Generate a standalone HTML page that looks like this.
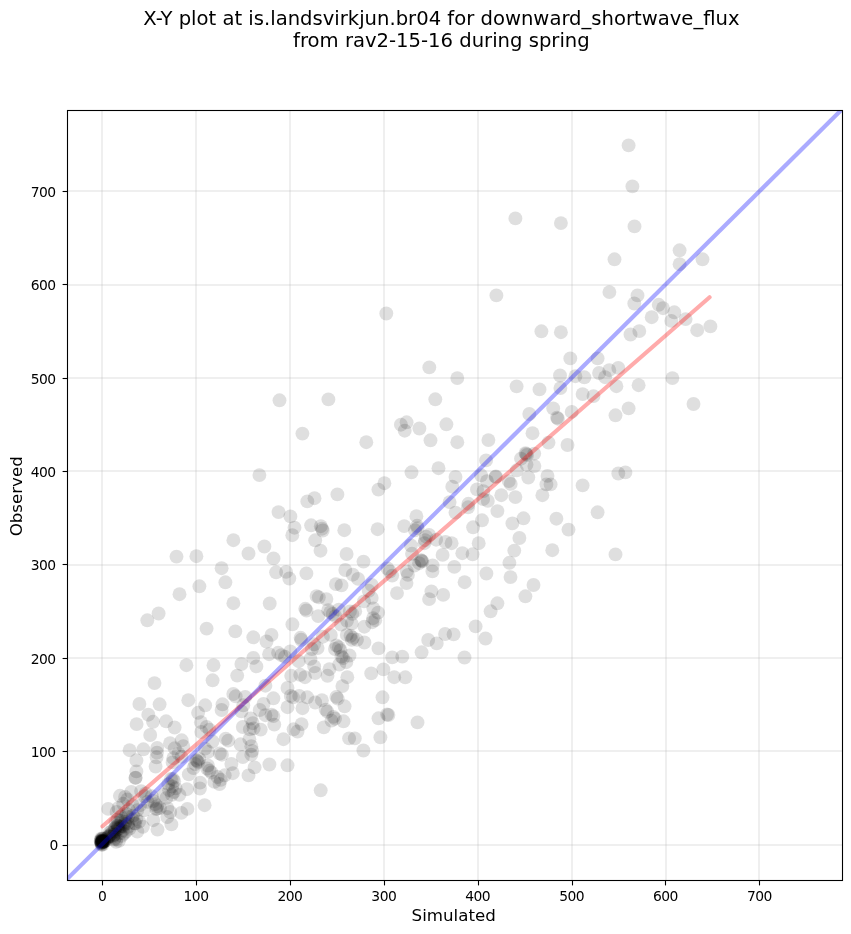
<!DOCTYPE html>
<html lang="en"><head><meta charset="utf-8"><title>X-Y plot</title>
<style>html,body{margin:0;padding:0;background:#fff}body{width:851px;height:934px;overflow:hidden}svg{display:block;will-change:transform}text{font-family:"DejaVu Sans","Liberation Sans",sans-serif;fill:#000}.tk{font-size:13.89px;letter-spacing:-0.55px}.lb{font-size:16.67px}.tt{font-size:19.6px}</style></head><body>
<svg width="851" height="934" viewBox="0 0 851 934">
<rect width="851" height="934" fill="#fff"/>
<text class="tt" x="441.4" y="24.7" text-anchor="middle">X-Y plot at is.landsvirkjun.br04 for downward_shortwave_flux</text>
<text class="tt" x="441.4" y="47.0" text-anchor="middle">from rav2-15-16 during spring</text>
<defs><clipPath id="ax"><rect x="67.5" y="110.5" width="775" height="770"/></clipPath></defs>
<g stroke="#b0b0b0" stroke-opacity="0.2" stroke-width="2">
<line x1="102" y1="110.5" x2="102" y2="880.5"/>
<line x1="196" y1="110.5" x2="196" y2="880.5"/>
<line x1="290" y1="110.5" x2="290" y2="880.5"/>
<line x1="384" y1="110.5" x2="384" y2="880.5"/>
<line x1="478" y1="110.5" x2="478" y2="880.5"/>
<line x1="572" y1="110.5" x2="572" y2="880.5"/>
<line x1="666" y1="110.5" x2="666" y2="880.5"/>
<line x1="759" y1="110.5" x2="759" y2="880.5"/>
<line x1="67.5" y1="845" x2="842.5" y2="845"/>
<line x1="67.5" y1="751" x2="842.5" y2="751"/>
<line x1="67.5" y1="658" x2="842.5" y2="658"/>
<line x1="67.5" y1="565" x2="842.5" y2="565"/>
<line x1="67.5" y1="471" x2="842.5" y2="471"/>
<line x1="67.5" y1="378" x2="842.5" y2="378"/>
<line x1="67.5" y1="285" x2="842.5" y2="285"/>
<line x1="67.5" y1="191" x2="842.5" y2="191"/>
</g>
<g clip-path="url(#ax)"><g fill="#000" fill-opacity="0.127">
<circle cx="628.6" cy="145.4" r="6.95"/>
<circle cx="632.4" cy="186.4" r="6.95"/>
<circle cx="634.5" cy="226.4" r="6.95"/>
<circle cx="560.9" cy="223.1" r="6.95"/>
<circle cx="614.5" cy="259.3" r="6.95"/>
<circle cx="679.6" cy="250.3" r="6.95"/>
<circle cx="679.6" cy="264.2" r="6.95"/>
<circle cx="702.5" cy="259.3" r="6.95"/>
<circle cx="609.4" cy="292.1" r="6.95"/>
<circle cx="637.5" cy="295.4" r="6.95"/>
<circle cx="634.3" cy="303.5" r="6.95"/>
<circle cx="658.7" cy="304.8" r="6.95"/>
<circle cx="663.0" cy="308.2" r="6.95"/>
<circle cx="674.3" cy="312.3" r="6.95"/>
<circle cx="651.7" cy="317.2" r="6.95"/>
<circle cx="671.3" cy="320.9" r="6.95"/>
<circle cx="685.6" cy="319.1" r="6.95"/>
<circle cx="710.4" cy="326.4" r="6.95"/>
<circle cx="697.2" cy="330.2" r="6.95"/>
<circle cx="639.3" cy="331.1" r="6.95"/>
<circle cx="630.5" cy="334.5" r="6.95"/>
<circle cx="560.9" cy="332.2" r="6.95"/>
<circle cx="570.3" cy="358.4" r="6.95"/>
<circle cx="597.6" cy="358.4" r="6.95"/>
<circle cx="618.3" cy="367.9" r="6.95"/>
<circle cx="609.3" cy="370.2" r="6.95"/>
<circle cx="599.1" cy="373.0" r="6.95"/>
<circle cx="605.1" cy="377.2" r="6.95"/>
<circle cx="584.4" cy="377.3" r="6.95"/>
<circle cx="575.4" cy="376.2" r="6.95"/>
<circle cx="560.0" cy="375.5" r="6.95"/>
<circle cx="560.4" cy="388.1" r="6.95"/>
<circle cx="616.4" cy="386.2" r="6.95"/>
<circle cx="638.6" cy="385.2" r="6.95"/>
<circle cx="672.4" cy="378.1" r="6.95"/>
<circle cx="582.6" cy="394.1" r="6.95"/>
<circle cx="593.5" cy="396.1" r="6.95"/>
<circle cx="571.7" cy="411.9" r="6.95"/>
<circle cx="628.6" cy="408.4" r="6.95"/>
<circle cx="615.5" cy="415.3" r="6.95"/>
<circle cx="693.5" cy="404.0" r="6.95"/>
<circle cx="567.5" cy="445.0" r="6.95"/>
<circle cx="618.3" cy="473.5" r="6.95"/>
<circle cx="625.4" cy="472.4" r="6.95"/>
<circle cx="582.6" cy="485.4" r="6.95"/>
<circle cx="597.6" cy="512.3" r="6.95"/>
<circle cx="568.5" cy="529.6" r="6.95"/>
<circle cx="615.5" cy="554.4" r="6.95"/>
<circle cx="515.4" cy="218.4" r="6.95"/>
<circle cx="496.4" cy="295.4" r="6.95"/>
<circle cx="541.4" cy="331.3" r="6.95"/>
<circle cx="429.3" cy="367.4" r="6.95"/>
<circle cx="457.3" cy="378.1" r="6.95"/>
<circle cx="516.6" cy="386.4" r="6.95"/>
<circle cx="539.5" cy="389.4" r="6.95"/>
<circle cx="435.3" cy="399.3" r="6.95"/>
<circle cx="529.3" cy="414.0" r="6.95"/>
<circle cx="553.2" cy="408.4" r="6.95"/>
<circle cx="557.0" cy="417.6" r="6.95"/>
<circle cx="557.9" cy="418.7" r="6.95"/>
<circle cx="406.6" cy="422.3" r="6.95"/>
<circle cx="400.9" cy="424.7" r="6.95"/>
<circle cx="404.7" cy="430.7" r="6.95"/>
<circle cx="419.4" cy="428.5" r="6.95"/>
<circle cx="446.4" cy="424.3" r="6.95"/>
<circle cx="430.5" cy="440.3" r="6.95"/>
<circle cx="457.3" cy="442.2" r="6.95"/>
<circle cx="488.4" cy="440.1" r="6.95"/>
<circle cx="532.5" cy="433.2" r="6.95"/>
<circle cx="548.5" cy="442.6" r="6.95"/>
<circle cx="486.1" cy="460.4" r="6.95"/>
<circle cx="525.5" cy="453.1" r="6.95"/>
<circle cx="527.1" cy="455.0" r="6.95"/>
<circle cx="526.2" cy="454.0" r="6.95"/>
<circle cx="521.0" cy="458.7" r="6.95"/>
<circle cx="534.2" cy="453.6" r="6.95"/>
<circle cx="526.5" cy="464.6" r="6.95"/>
<circle cx="534.4" cy="466.1" r="6.95"/>
<circle cx="516.8" cy="470.3" r="6.95"/>
<circle cx="528.3" cy="477.5" r="6.95"/>
<circle cx="547.5" cy="475.9" r="6.95"/>
<circle cx="546.4" cy="484.4" r="6.95"/>
<circle cx="550.6" cy="484.4" r="6.95"/>
<circle cx="495.6" cy="476.9" r="6.95"/>
<circle cx="508.8" cy="481.1" r="6.95"/>
<circle cx="510.7" cy="483.9" r="6.95"/>
<circle cx="501.3" cy="495.2" r="6.95"/>
<circle cx="515.4" cy="497.1" r="6.95"/>
<circle cx="542.4" cy="495.2" r="6.95"/>
<circle cx="416.4" cy="516.2" r="6.95"/>
<circle cx="404.2" cy="526.1" r="6.95"/>
<circle cx="417.1" cy="525.8" r="6.95"/>
<circle cx="417.6" cy="528.1" r="6.95"/>
<circle cx="415.0" cy="530.3" r="6.95"/>
<circle cx="449.6" cy="502.1" r="6.95"/>
<circle cx="455.5" cy="512.6" r="6.95"/>
<circle cx="468.4" cy="503.8" r="6.95"/>
<circle cx="468.1" cy="507.3" r="6.95"/>
<circle cx="487.8" cy="500.9" r="6.95"/>
<circle cx="483.1" cy="499.1" r="6.95"/>
<circle cx="482.0" cy="520.3" r="6.95"/>
<circle cx="473.1" cy="527.3" r="6.95"/>
<circle cx="478.7" cy="543.2" r="6.95"/>
<circle cx="426.1" cy="536.7" r="6.95"/>
<circle cx="425.0" cy="540.2" r="6.95"/>
<circle cx="429.1" cy="535.0" r="6.95"/>
<circle cx="424.4" cy="543.2" r="6.95"/>
<circle cx="436.1" cy="539.7" r="6.95"/>
<circle cx="445.5" cy="542.0" r="6.95"/>
<circle cx="451.6" cy="543.2" r="6.95"/>
<circle cx="410.9" cy="545.5" r="6.95"/>
<circle cx="412.0" cy="553.8" r="6.95"/>
<circle cx="442.6" cy="554.9" r="6.95"/>
<circle cx="462.3" cy="553.2" r="6.95"/>
<circle cx="472.6" cy="554.3" r="6.95"/>
<circle cx="421.1" cy="560.2" r="6.95"/>
<circle cx="422.3" cy="561.4" r="6.95"/>
<circle cx="421.6" cy="560.8" r="6.95"/>
<circle cx="419.1" cy="563.2" r="6.95"/>
<circle cx="414.4" cy="565.5" r="6.95"/>
<circle cx="432.6" cy="565.5" r="6.95"/>
<circle cx="432.4" cy="571.4" r="6.95"/>
<circle cx="454.3" cy="566.9" r="6.95"/>
<circle cx="486.4" cy="573.5" r="6.95"/>
<circle cx="406.8" cy="571.4" r="6.95"/>
<circle cx="407.9" cy="574.9" r="6.95"/>
<circle cx="406.5" cy="583.1" r="6.95"/>
<circle cx="464.6" cy="582.2" r="6.95"/>
<circle cx="397.0" cy="593.1" r="6.95"/>
<circle cx="431.4" cy="591.4" r="6.95"/>
<circle cx="443.2" cy="594.9" r="6.95"/>
<circle cx="411.5" cy="472.3" r="6.95"/>
<circle cx="438.5" cy="468.2" r="6.95"/>
<circle cx="455.5" cy="477.0" r="6.95"/>
<circle cx="452.3" cy="486.7" r="6.95"/>
<circle cx="481.1" cy="475.3" r="6.95"/>
<circle cx="487.0" cy="481.1" r="6.95"/>
<circle cx="477.0" cy="489.4" r="6.95"/>
<circle cx="483.4" cy="491.1" r="6.95"/>
<circle cx="497.4" cy="511.1" r="6.95"/>
<circle cx="512.4" cy="523.4" r="6.95"/>
<circle cx="523.5" cy="518.3" r="6.95"/>
<circle cx="556.4" cy="518.7" r="6.95"/>
<circle cx="519.4" cy="538.0" r="6.95"/>
<circle cx="514.3" cy="550.6" r="6.95"/>
<circle cx="552.3" cy="550.2" r="6.95"/>
<circle cx="509.4" cy="562.8" r="6.95"/>
<circle cx="510.5" cy="577.1" r="6.95"/>
<circle cx="533.5" cy="585.0" r="6.95"/>
<circle cx="525.4" cy="596.3" r="6.95"/>
<circle cx="497.4" cy="603.3" r="6.95"/>
<circle cx="490.6" cy="611.3" r="6.95"/>
<circle cx="475.6" cy="626.4" r="6.95"/>
<circle cx="429.1" cy="599.1" r="6.95"/>
<circle cx="485.5" cy="638.5" r="6.95"/>
<circle cx="445.1" cy="634.0" r="6.95"/>
<circle cx="453.6" cy="634.4" r="6.95"/>
<circle cx="428.2" cy="640.0" r="6.95"/>
<circle cx="436.7" cy="643.4" r="6.95"/>
<circle cx="421.6" cy="652.3" r="6.95"/>
<circle cx="464.5" cy="657.5" r="6.95"/>
<circle cx="402.3" cy="656.6" r="6.95"/>
<circle cx="405.3" cy="677.3" r="6.95"/>
<circle cx="417.5" cy="722.4" r="6.95"/>
<circle cx="495.9" cy="476.5" r="6.95"/>
<circle cx="386.3" cy="313.5" r="6.95"/>
<circle cx="279.5" cy="400.3" r="6.95"/>
<circle cx="328.4" cy="399.4" r="6.95"/>
<circle cx="302.4" cy="433.6" r="6.95"/>
<circle cx="366.3" cy="442.2" r="6.95"/>
<circle cx="259.4" cy="475.1" r="6.95"/>
<circle cx="384.4" cy="483.2" r="6.95"/>
<circle cx="378.4" cy="489.6" r="6.95"/>
<circle cx="337.4" cy="494.4" r="6.95"/>
<circle cx="314.5" cy="498.2" r="6.95"/>
<circle cx="307.3" cy="501.4" r="6.95"/>
<circle cx="278.5" cy="512.1" r="6.95"/>
<circle cx="290.4" cy="516.4" r="6.95"/>
<circle cx="294.5" cy="527.7" r="6.95"/>
<circle cx="292.3" cy="535.2" r="6.95"/>
<circle cx="311.1" cy="525.3" r="6.95"/>
<circle cx="320.8" cy="526.2" r="6.95"/>
<circle cx="322.7" cy="530.5" r="6.95"/>
<circle cx="344.3" cy="530.2" r="6.95"/>
<circle cx="377.6" cy="529.2" r="6.95"/>
<circle cx="315.2" cy="540.3" r="6.95"/>
<circle cx="320.5" cy="550.7" r="6.95"/>
<circle cx="264.4" cy="546.5" r="6.95"/>
<circle cx="248.5" cy="553.5" r="6.95"/>
<circle cx="273.5" cy="558.4" r="6.95"/>
<circle cx="346.6" cy="554.0" r="6.95"/>
<circle cx="363.5" cy="561.6" r="6.95"/>
<circle cx="276.1" cy="572.3" r="6.95"/>
<circle cx="286.1" cy="571.9" r="6.95"/>
<circle cx="289.3" cy="578.5" r="6.95"/>
<circle cx="306.4" cy="573.4" r="6.95"/>
<circle cx="345.3" cy="570.0" r="6.95"/>
<circle cx="352.8" cy="574.7" r="6.95"/>
<circle cx="358.1" cy="578.9" r="6.95"/>
<circle cx="335.9" cy="584.1" r="6.95"/>
<circle cx="341.5" cy="585.4" r="6.95"/>
<circle cx="269.7" cy="603.5" r="6.95"/>
<circle cx="387.5" cy="568.5" r="6.95"/>
<circle cx="389.9" cy="571.5" r="6.95"/>
<circle cx="392.2" cy="575.6" r="6.95"/>
<circle cx="316.5" cy="596.1" r="6.95"/>
<circle cx="318.8" cy="597.3" r="6.95"/>
<circle cx="326.4" cy="599.1" r="6.95"/>
<circle cx="371.7" cy="585.0" r="6.95"/>
<circle cx="368.7" cy="590.8" r="6.95"/>
<circle cx="371.7" cy="597.9" r="6.95"/>
<circle cx="364.0" cy="601.4" r="6.95"/>
<circle cx="373.4" cy="608.5" r="6.95"/>
<circle cx="378.1" cy="612.6" r="6.95"/>
<circle cx="373.1" cy="618.2" r="6.95"/>
<circle cx="375.2" cy="620.2" r="6.95"/>
<circle cx="372.3" cy="622.2" r="6.95"/>
<circle cx="364.4" cy="626.7" r="6.95"/>
<circle cx="305.3" cy="608.8" r="6.95"/>
<circle cx="306.5" cy="610.5" r="6.95"/>
<circle cx="318.2" cy="616.1" r="6.95"/>
<circle cx="328.2" cy="610.2" r="6.95"/>
<circle cx="330.3" cy="612.2" r="6.95"/>
<circle cx="332.7" cy="614.0" r="6.95"/>
<circle cx="335.3" cy="616.1" r="6.95"/>
<circle cx="338.8" cy="609.6" r="6.95"/>
<circle cx="349.9" cy="611.4" r="6.95"/>
<circle cx="352.3" cy="613.8" r="6.95"/>
<circle cx="355.2" cy="611.2" r="6.95"/>
<circle cx="347.0" cy="620.8" r="6.95"/>
<circle cx="351.7" cy="623.7" r="6.95"/>
<circle cx="341.1" cy="624.6" r="6.95"/>
<circle cx="350.5" cy="635.8" r="6.95"/>
<circle cx="352.9" cy="637.8" r="6.95"/>
<circle cx="351.7" cy="639.8" r="6.95"/>
<circle cx="346.8" cy="634.9" r="6.95"/>
<circle cx="357.0" cy="639.8" r="6.95"/>
<circle cx="364.4" cy="642.5" r="6.95"/>
<circle cx="378.5" cy="648.4" r="6.95"/>
<circle cx="336.4" cy="645.5" r="6.95"/>
<circle cx="338.8" cy="647.2" r="6.95"/>
<circle cx="335.0" cy="649.0" r="6.95"/>
<circle cx="340.5" cy="650.2" r="6.95"/>
<circle cx="330.8" cy="634.9" r="6.95"/>
<circle cx="314.1" cy="644.3" r="6.95"/>
<circle cx="317.6" cy="648.1" r="6.95"/>
<circle cx="311.8" cy="649.0" r="6.95"/>
<circle cx="301.2" cy="639.8" r="6.95"/>
<circle cx="300.6" cy="637.8" r="6.95"/>
<circle cx="322.9" cy="636.7" r="6.95"/>
<circle cx="349.5" cy="655.5" r="6.95"/>
<circle cx="341.5" cy="656.5" r="6.95"/>
<circle cx="343.0" cy="658.0" r="6.95"/>
<circle cx="392.2" cy="657.4" r="6.95"/>
<circle cx="346.3" cy="662.2" r="6.95"/>
<circle cx="339.3" cy="664.5" r="6.95"/>
<circle cx="329.4" cy="669.2" r="6.95"/>
<circle cx="327.5" cy="675.8" r="6.95"/>
<circle cx="347.3" cy="677.2" r="6.95"/>
<circle cx="342.4" cy="686.1" r="6.95"/>
<circle cx="371.2" cy="673.4" r="6.95"/>
<circle cx="383.4" cy="669.4" r="6.95"/>
<circle cx="394.2" cy="677.2" r="6.95"/>
<circle cx="292.4" cy="624.3" r="6.95"/>
<circle cx="253.3" cy="637.3" r="6.95"/>
<circle cx="271.5" cy="634.9" r="6.95"/>
<circle cx="266.5" cy="641.5" r="6.95"/>
<circle cx="269.1" cy="654.2" r="6.95"/>
<circle cx="278.1" cy="652.8" r="6.95"/>
<circle cx="281.4" cy="655.1" r="6.95"/>
<circle cx="284.9" cy="656.8" r="6.95"/>
<circle cx="290.3" cy="651.4" r="6.95"/>
<circle cx="253.3" cy="657.9" r="6.95"/>
<circle cx="256.4" cy="666.4" r="6.95"/>
<circle cx="241.4" cy="664.0" r="6.95"/>
<circle cx="298.7" cy="661.2" r="6.95"/>
<circle cx="310.5" cy="658.9" r="6.95"/>
<circle cx="314.2" cy="666.4" r="6.95"/>
<circle cx="291.2" cy="675.8" r="6.95"/>
<circle cx="300.2" cy="674.8" r="6.95"/>
<circle cx="305.0" cy="677.2" r="6.95"/>
<circle cx="315.2" cy="673.0" r="6.95"/>
<circle cx="265.4" cy="685.7" r="6.95"/>
<circle cx="287.5" cy="688.0" r="6.95"/>
<circle cx="382.5" cy="697.3" r="6.95"/>
<circle cx="336.4" cy="696.9" r="6.95"/>
<circle cx="337.7" cy="698.6" r="6.95"/>
<circle cx="344.6" cy="706.3" r="6.95"/>
<circle cx="321.9" cy="700.2" r="6.95"/>
<circle cx="325.6" cy="709.6" r="6.95"/>
<circle cx="327.3" cy="711.7" r="6.95"/>
<circle cx="333.4" cy="716.9" r="6.95"/>
<circle cx="335.0" cy="718.7" r="6.95"/>
<circle cx="331.5" cy="720.6" r="6.95"/>
<circle cx="343.5" cy="721.3" r="6.95"/>
<circle cx="323.8" cy="727.4" r="6.95"/>
<circle cx="387.1" cy="714.5" r="6.95"/>
<circle cx="388.4" cy="715.0" r="6.95"/>
<circle cx="378.5" cy="718.3" r="6.95"/>
<circle cx="349.1" cy="738.4" r="6.95"/>
<circle cx="354.8" cy="738.4" r="6.95"/>
<circle cx="380.4" cy="737.3" r="6.95"/>
<circle cx="363.4" cy="750.5" r="6.95"/>
<circle cx="273.4" cy="698.3" r="6.95"/>
<circle cx="263.5" cy="703.9" r="6.95"/>
<circle cx="259.7" cy="710.0" r="6.95"/>
<circle cx="287.5" cy="707.2" r="6.95"/>
<circle cx="290.8" cy="695.9" r="6.95"/>
<circle cx="293.1" cy="697.3" r="6.95"/>
<circle cx="299.2" cy="695.9" r="6.95"/>
<circle cx="307.2" cy="697.3" r="6.95"/>
<circle cx="302.5" cy="708.2" r="6.95"/>
<circle cx="315.2" cy="702.5" r="6.95"/>
<circle cx="271.5" cy="714.7" r="6.95"/>
<circle cx="273.4" cy="716.1" r="6.95"/>
<circle cx="265.4" cy="715.2" r="6.95"/>
<circle cx="274.3" cy="724.6" r="6.95"/>
<circle cx="301.6" cy="724.1" r="6.95"/>
<circle cx="293.6" cy="729.3" r="6.95"/>
<circle cx="297.5" cy="731.5" r="6.95"/>
<circle cx="283.4" cy="739.2" r="6.95"/>
<circle cx="250.8" cy="718.5" r="6.95"/>
<circle cx="252.7" cy="723.2" r="6.95"/>
<circle cx="253.6" cy="728.4" r="6.95"/>
<circle cx="249.9" cy="729.3" r="6.95"/>
<circle cx="260.7" cy="729.6" r="6.95"/>
<circle cx="242.8" cy="727.0" r="6.95"/>
<circle cx="249.4" cy="739.2" r="6.95"/>
<circle cx="251.3" cy="746.2" r="6.95"/>
<circle cx="252.2" cy="750.9" r="6.95"/>
<circle cx="251.3" cy="754.7" r="6.95"/>
<circle cx="242.8" cy="757.0" r="6.95"/>
<circle cx="254.6" cy="767.4" r="6.95"/>
<circle cx="269.4" cy="764.5" r="6.95"/>
<circle cx="287.5" cy="765.3" r="6.95"/>
<circle cx="248.5" cy="775.4" r="6.95"/>
<circle cx="245.2" cy="696.9" r="6.95"/>
<circle cx="243.3" cy="705.3" r="6.95"/>
<circle cx="241.4" cy="711.4" r="6.95"/>
<circle cx="240.5" cy="744.3" r="6.95"/>
<circle cx="320.7" cy="790.3" r="6.95"/>
<circle cx="233.4" cy="540.2" r="6.95"/>
<circle cx="176.5" cy="556.6" r="6.95"/>
<circle cx="196.4" cy="556.2" r="6.95"/>
<circle cx="221.6" cy="568.2" r="6.95"/>
<circle cx="225.4" cy="582.3" r="6.95"/>
<circle cx="199.4" cy="586.3" r="6.95"/>
<circle cx="179.5" cy="594.2" r="6.95"/>
<circle cx="233.4" cy="603.2" r="6.95"/>
<circle cx="158.6" cy="613.5" r="6.95"/>
<circle cx="147.3" cy="620.3" r="6.95"/>
<circle cx="206.6" cy="628.6" r="6.95"/>
<circle cx="235.3" cy="631.4" r="6.95"/>
<circle cx="186.4" cy="665.2" r="6.95"/>
<circle cx="213.5" cy="665.2" r="6.95"/>
<circle cx="237.2" cy="675.6" r="6.95"/>
<circle cx="212.6" cy="680.3" r="6.95"/>
<circle cx="154.5" cy="683.1" r="6.95"/>
<circle cx="188.3" cy="700.2" r="6.95"/>
<circle cx="139.4" cy="704.0" r="6.95"/>
<circle cx="159.6" cy="704.3" r="6.95"/>
<circle cx="205.2" cy="705.3" r="6.95"/>
<circle cx="222.5" cy="704.3" r="6.95"/>
<circle cx="221.6" cy="710.0" r="6.95"/>
<circle cx="233.3" cy="694.0" r="6.95"/>
<circle cx="235.7" cy="696.3" r="6.95"/>
<circle cx="198.1" cy="712.8" r="6.95"/>
<circle cx="200.9" cy="722.2" r="6.95"/>
<circle cx="148.3" cy="714.7" r="6.95"/>
<circle cx="153.0" cy="721.8" r="6.95"/>
<circle cx="136.6" cy="724.1" r="6.95"/>
<circle cx="166.1" cy="721.3" r="6.95"/>
<circle cx="174.6" cy="727.5" r="6.95"/>
<circle cx="150.2" cy="735.0" r="6.95"/>
<circle cx="206.6" cy="726.9" r="6.95"/>
<circle cx="209.4" cy="729.7" r="6.95"/>
<circle cx="201.3" cy="732.0" r="6.95"/>
<circle cx="225.7" cy="738.7" r="6.95"/>
<circle cx="228.2" cy="740.6" r="6.95"/>
<circle cx="181.7" cy="740.3" r="6.95"/>
<circle cx="183.3" cy="746.2" r="6.95"/>
<circle cx="174.7" cy="748.3" r="6.95"/>
<circle cx="170.0" cy="743.2" r="6.95"/>
<circle cx="173.3" cy="758.2" r="6.95"/>
<circle cx="178.5" cy="753.5" r="6.95"/>
<circle cx="205.0" cy="748.6" r="6.95"/>
<circle cx="208.1" cy="751.8" r="6.95"/>
<circle cx="212.5" cy="741.5" r="6.95"/>
<circle cx="219.8" cy="753.5" r="6.95"/>
<circle cx="221.9" cy="754.7" r="6.95"/>
<circle cx="196.3" cy="760.1" r="6.95"/>
<circle cx="198.2" cy="762.1" r="6.95"/>
<circle cx="195.2" cy="764.0" r="6.95"/>
<circle cx="199.3" cy="758.9" r="6.95"/>
<circle cx="197.3" cy="761.0" r="6.95"/>
<circle cx="207.1" cy="768.5" r="6.95"/>
<circle cx="209.5" cy="770.6" r="6.95"/>
<circle cx="211.5" cy="772.5" r="6.95"/>
<circle cx="207.8" cy="765.5" r="6.95"/>
<circle cx="193.5" cy="768.1" r="6.95"/>
<circle cx="188.8" cy="774.4" r="6.95"/>
<circle cx="231.4" cy="764.0" r="6.95"/>
<circle cx="232.8" cy="773.2" r="6.95"/>
<circle cx="217.5" cy="777.0" r="6.95"/>
<circle cx="220.8" cy="779.8" r="6.95"/>
<circle cx="224.7" cy="775.3" r="6.95"/>
<circle cx="214.4" cy="781.9" r="6.95"/>
<circle cx="219.5" cy="784.0" r="6.95"/>
<circle cx="200.1" cy="782.6" r="6.95"/>
<circle cx="199.9" cy="788.5" r="6.95"/>
<circle cx="172.8" cy="778.9" r="6.95"/>
<circle cx="174.2" cy="781.2" r="6.95"/>
<circle cx="172.3" cy="786.4" r="6.95"/>
<circle cx="173.8" cy="792.0" r="6.95"/>
<circle cx="171.9" cy="794.8" r="6.95"/>
<circle cx="175.6" cy="788.3" r="6.95"/>
<circle cx="186.9" cy="789.2" r="6.95"/>
<circle cx="179.4" cy="794.8" r="6.95"/>
<circle cx="204.6" cy="805.2" r="6.95"/>
<circle cx="187.4" cy="808.9" r="6.95"/>
<circle cx="181.3" cy="812.9" r="6.95"/>
<circle cx="129.6" cy="750.2" r="6.95"/>
<circle cx="143.4" cy="749.3" r="6.95"/>
<circle cx="157.2" cy="748.0" r="6.95"/>
<circle cx="157.0" cy="752.6" r="6.95"/>
<circle cx="156.6" cy="757.3" r="6.95"/>
<circle cx="136.4" cy="760.3" r="6.95"/>
<circle cx="155.6" cy="766.5" r="6.95"/>
<circle cx="136.4" cy="771.4" r="6.95"/>
<circle cx="135.4" cy="777.9" r="6.95"/>
<circle cx="119.9" cy="795.8" r="6.95"/>
<circle cx="131.2" cy="792.0" r="6.95"/>
<circle cx="125.1" cy="796.9" r="6.95"/>
<circle cx="127.4" cy="799.5" r="6.95"/>
<circle cx="141.1" cy="791.1" r="6.95"/>
<circle cx="108.2" cy="808.9" r="6.95"/>
<circle cx="118.5" cy="808.0" r="6.95"/>
<circle cx="116.6" cy="812.0" r="6.95"/>
<circle cx="123.2" cy="803.8" r="6.95"/>
<circle cx="144.8" cy="796.3" r="6.95"/>
<circle cx="155.2" cy="804.2" r="6.95"/>
<circle cx="157.0" cy="806.3" r="6.95"/>
<circle cx="156.1" cy="809.1" r="6.95"/>
<circle cx="160.0" cy="808.0" r="6.95"/>
<circle cx="163.6" cy="794.8" r="6.95"/>
<circle cx="166.4" cy="797.9" r="6.95"/>
<circle cx="147.6" cy="801.9" r="6.95"/>
<circle cx="151.9" cy="796.3" r="6.95"/>
<circle cx="140.1" cy="805.2" r="6.95"/>
<circle cx="137.3" cy="810.1" r="6.95"/>
<circle cx="143.9" cy="810.4" r="6.95"/>
<circle cx="167.4" cy="808.2" r="6.95"/>
<circle cx="170.2" cy="812.0" r="6.95"/>
<circle cx="132.6" cy="805.2" r="6.95"/>
<circle cx="128.8" cy="809.9" r="6.95"/>
<circle cx="135.7" cy="777.7" r="6.95"/>
<circle cx="171.4" cy="824.4" r="6.95"/>
<circle cx="116.1" cy="841.8" r="6.95"/>
<circle cx="137.3" cy="831.5" r="6.95"/>
<circle cx="142.9" cy="826.8" r="6.95"/>
<circle cx="153.3" cy="820.2" r="6.95"/>
<circle cx="157.5" cy="829.6" r="6.95"/>
<circle cx="136.4" cy="818.8" r="6.95"/>
<circle cx="139.2" cy="821.6" r="6.95"/>
<circle cx="135.4" cy="823.5" r="6.95"/>
<circle cx="100.9" cy="840.1" r="6.95"/>
<circle cx="102.8" cy="838.6" r="6.95"/>
<circle cx="102.0" cy="838.7" r="6.95"/>
<circle cx="103.2" cy="841.9" r="6.95"/>
<circle cx="103.5" cy="840.9" r="6.95"/>
<circle cx="102.5" cy="841.2" r="6.95"/>
<circle cx="101.4" cy="841.8" r="6.95"/>
<circle cx="100.8" cy="841.1" r="6.95"/>
<circle cx="102.8" cy="841.7" r="6.95"/>
<circle cx="101.7" cy="844.4" r="6.95"/>
<circle cx="102.2" cy="840.8" r="6.95"/>
<circle cx="102.3" cy="840.9" r="6.95"/>
<circle cx="101.7" cy="841.1" r="6.95"/>
<circle cx="104.1" cy="841.6" r="6.95"/>
<circle cx="102.3" cy="842.5" r="6.95"/>
<circle cx="104.1" cy="841.3" r="6.95"/>
<circle cx="101.5" cy="844.8" r="6.95"/>
<circle cx="100.6" cy="841.1" r="6.95"/>
<circle cx="102.8" cy="844.6" r="6.95"/>
<circle cx="101.2" cy="838.4" r="6.95"/>
<circle cx="102.8" cy="840.9" r="6.95"/>
<circle cx="101.7" cy="842.2" r="6.95"/>
<circle cx="102.3" cy="842.0" r="6.95"/>
<circle cx="101.7" cy="843.3" r="6.95"/>
<circle cx="103.6" cy="841.6" r="6.95"/>
<circle cx="101.6" cy="842.6" r="6.95"/>
<circle cx="102.6" cy="840.2" r="6.95"/>
<circle cx="101.6" cy="843.0" r="6.95"/>
<circle cx="102.0" cy="841.2" r="6.95"/>
<circle cx="102.3" cy="841.6" r="6.95"/>
<circle cx="102.1" cy="839.1" r="6.95"/>
<circle cx="103.8" cy="841.9" r="6.95"/>
<circle cx="101.2" cy="842.9" r="6.95"/>
<circle cx="102.4" cy="841.6" r="6.95"/>
<circle cx="106.3" cy="840.4" r="6.95"/>
<circle cx="108.7" cy="836.3" r="6.95"/>
<circle cx="110.8" cy="836.4" r="6.95"/>
<circle cx="106.3" cy="838.4" r="6.95"/>
<circle cx="107.7" cy="837.9" r="6.95"/>
<circle cx="108.4" cy="836.1" r="6.95"/>
<circle cx="109.3" cy="836.5" r="6.95"/>
<circle cx="116.7" cy="825.6" r="6.95"/>
<circle cx="114.5" cy="834.5" r="6.95"/>
<circle cx="118.1" cy="827.4" r="6.95"/>
<circle cx="119.4" cy="828.7" r="6.95"/>
<circle cx="112.3" cy="832.9" r="6.95"/>
<circle cx="109.6" cy="832.6" r="6.95"/>
<circle cx="113.2" cy="836.7" r="6.95"/>
<circle cx="117.6" cy="825.6" r="6.95"/>
<circle cx="114.2" cy="839.6" r="6.95"/>
<circle cx="114.9" cy="831.4" r="6.95"/>
<circle cx="113.4" cy="835.3" r="6.95"/>
<circle cx="117.9" cy="829.0" r="6.95"/>
<circle cx="120.4" cy="820.4" r="6.95"/>
<circle cx="126.5" cy="813.9" r="6.95"/>
<circle cx="128.5" cy="826.7" r="6.95"/>
<circle cx="122.9" cy="830.3" r="6.95"/>
<circle cx="132.4" cy="818.9" r="6.95"/>
<circle cx="125.5" cy="816.2" r="6.95"/>
<circle cx="121.4" cy="821.1" r="6.95"/>
<circle cx="128.0" cy="817.2" r="6.95"/>
<circle cx="129.5" cy="828.7" r="6.95"/>
<circle cx="134.3" cy="823.4" r="6.95"/>
<circle cx="124.8" cy="824.0" r="6.95"/>
<circle cx="115.3" cy="827.8" r="6.95"/>
<circle cx="118.2" cy="826.2" r="6.95"/>
<circle cx="111.5" cy="831.4" r="6.95"/>
<circle cx="122.3" cy="826.0" r="6.95"/>
<circle cx="120.5" cy="826.8" r="6.95"/>
<circle cx="110.5" cy="834.6" r="6.95"/>
<circle cx="114.6" cy="828.9" r="6.95"/>
<circle cx="322.0" cy="528.7" r="6.95"/>
<circle cx="133.0" cy="815.7" r="6.95"/>
<circle cx="127.8" cy="823.4" r="6.95"/>
<circle cx="123.3" cy="826.6" r="6.95"/>
<circle cx="125.3" cy="822.0" r="6.95"/>
<circle cx="123.9" cy="833.7" r="6.95"/>
<circle cx="121.8" cy="835.8" r="6.95"/>
<circle cx="126.0" cy="831.6" r="6.95"/>
<circle cx="120.4" cy="833.0" r="6.95"/>
<circle cx="116.2" cy="839.4" r="6.95"/>
<circle cx="119.0" cy="840.8" r="6.95"/>
<circle cx="114.7" cy="838.0" r="6.95"/>
<circle cx="117.6" cy="819.6" r="6.95"/>
<circle cx="121.1" cy="816.8" r="6.95"/>
<circle cx="115.5" cy="822.4" r="6.95"/>
<circle cx="171.0" cy="778.9" r="6.95"/>
<circle cx="168.2" cy="784.1" r="6.95"/>
<circle cx="145.6" cy="793.5" r="6.95"/>
<circle cx="153.2" cy="801.0" r="6.95"/>
<circle cx="169.1" cy="790.2" r="6.95"/>
<circle cx="156.9" cy="808.5" r="6.95"/>
<circle cx="167.3" cy="817.0" r="6.95"/>
<circle cx="172.6" cy="762.4" r="6.95"/>
<circle cx="181.5" cy="756.8" r="6.95"/>
</g>
<line x1="102.5" y1="826.3" x2="709.6" y2="297.3" stroke="#f00" stroke-opacity="0.33" stroke-width="4.17" stroke-linecap="round"/>
<line x1="62.5" y1="883.58" x2="847.5" y2="103.78" stroke="#00f" stroke-opacity="0.33" stroke-width="4.17" stroke-linecap="square"/>
</g>
<g stroke="#000" stroke-width="1.1">
<line x1="102.5" y1="880.5" x2="102.5" y2="885.4"/>
<line x1="196.5" y1="880.5" x2="196.5" y2="885.4"/>
<line x1="290.5" y1="880.5" x2="290.5" y2="885.4"/>
<line x1="384.5" y1="880.5" x2="384.5" y2="885.4"/>
<line x1="478.5" y1="880.5" x2="478.5" y2="885.4"/>
<line x1="572.5" y1="880.5" x2="572.5" y2="885.4"/>
<line x1="665.5" y1="880.5" x2="665.5" y2="885.4"/>
<line x1="759.5" y1="880.5" x2="759.5" y2="885.4"/>
<line x1="62.6" y1="845.5" x2="67.5" y2="845.5"/>
<line x1="62.6" y1="751.5" x2="67.5" y2="751.5"/>
<line x1="62.6" y1="658.5" x2="67.5" y2="658.5"/>
<line x1="62.6" y1="564.5" x2="67.5" y2="564.5"/>
<line x1="62.6" y1="471.5" x2="67.5" y2="471.5"/>
<line x1="62.6" y1="378.5" x2="67.5" y2="378.5"/>
<line x1="62.6" y1="284.5" x2="67.5" y2="284.5"/>
<line x1="62.6" y1="191.5" x2="67.5" y2="191.5"/>
</g>
<text class="tk" x="102.15" y="901" text-anchor="middle">0</text>
<text class="tk" x="57.8" y="850.30" text-anchor="end">0</text>
<text class="tk" x="196.03" y="901" text-anchor="middle">100</text>
<text class="tk" x="55.6" y="756.70" text-anchor="end">100</text>
<text class="tk" x="289.91" y="901" text-anchor="middle">200</text>
<text class="tk" x="55.6" y="663.70" text-anchor="end">200</text>
<text class="tk" x="383.79" y="901" text-anchor="middle">300</text>
<text class="tk" x="55.6" y="569.70" text-anchor="end">300</text>
<text class="tk" x="477.67" y="901" text-anchor="middle">400</text>
<text class="tk" x="55.6" y="476.70" text-anchor="end">400</text>
<text class="tk" x="571.55" y="901" text-anchor="middle">500</text>
<text class="tk" x="55.6" y="383.70" text-anchor="end">500</text>
<text class="tk" x="665.43" y="901" text-anchor="middle">600</text>
<text class="tk" x="55.6" y="289.70" text-anchor="end">600</text>
<text class="tk" x="759.31" y="901" text-anchor="middle">700</text>
<text class="tk" x="55.6" y="196.70" text-anchor="end">700</text>
<rect x="67.5" y="110.5" width="775" height="770" fill="none" stroke="#000" stroke-width="1.1"/>
<text class="lb" x="453.7" y="920.8" text-anchor="middle">Simulated</text>
<text class="lb" transform="translate(21.9,496.3) rotate(-90)" text-anchor="middle">Observed</text>
</svg></body></html>
